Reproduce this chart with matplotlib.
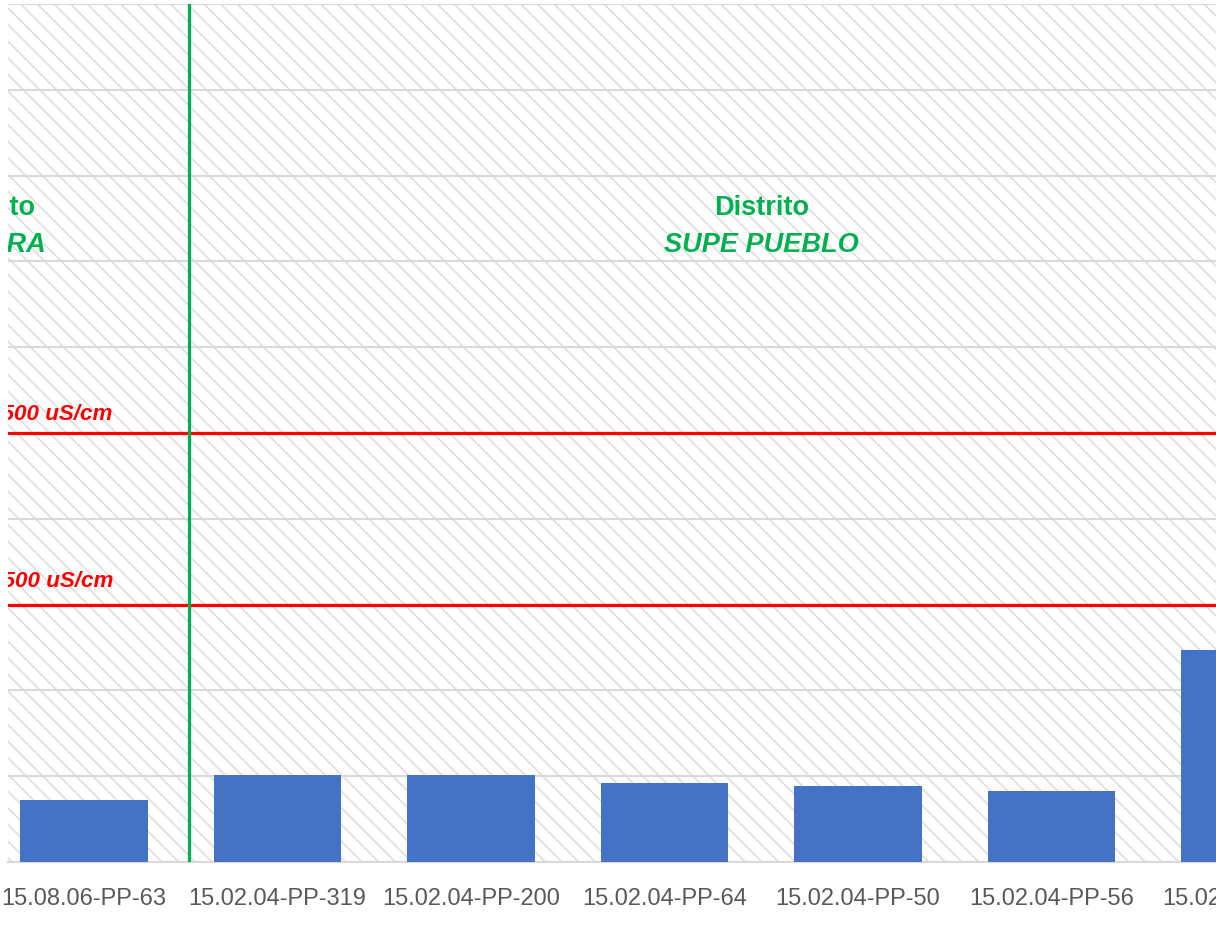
import numpy as np
import matplotlib
matplotlib.use("Agg")
import matplotlib.pyplot as plt
from matplotlib import font_manager
from matplotlib.patches import Rectangle

# data
wells = ["15.08.06-PP-63", "15.02.04-PP-319", "15.02.04-PP-200", "15.02.04-PP-64",
         "15.02.04-PP-50", "15.02.04-PP-56", "15.02.04-PP-47"]
conductivity = [362, 505, 505, 461, 443, 414, 1236]
limits = [2500, 1500]
limit_labels = ["2500 uS/cm", "1500 uS/cm"]
districts = ["HUAURA", "SUPE PUEBLO"]
district_x = [-0.5, 3.5]
divider_x = 0.54

names = {f.name for f in font_manager.fontManager.ttflist}
if "Liberation Sans Narrow" in names:
    fam, k = "Liberation Sans Narrow", 1.0
else:
    fam, k = "Liberation Sans", 0.85
plt.rcParams["font.family"] = [fam, "DejaVu Sans"]
plt.rcParams["hatch.linewidth"] = 1.1

W, H = 1216, 926
fig = plt.figure(figsize=(W / 100, H / 100), dpi=100)
ax = fig.add_axes([8 / W, (H - 862) / H, (W - 8) / W, (862 - 4) / H])

# hatched plot area
ax.add_patch(Rectangle((0, 0), 1, 1, transform=ax.transAxes, facecolor="white",
                       edgecolor="#DCDCDC", hatch="\\\\", lw=0, zorder=0))

x = np.arange(len(wells))
ax.bar(x, conductivity, width=0.66, color="#4472C4", zorder=3)

ax.set_xticks([])
ax.set_xlim(-0.393, 5.85)
ax.set_ylim(0, 5000)
ax.set_yticks(np.arange(0, 5001, 500))
ax.yaxis.grid(True, color="#D9D9D9", lw=1.5, zorder=1)
ax.set_axisbelow(True)
ax.tick_params(axis="y", left=False, labelleft=False)
for s in ["top", "left", "right"]:
    ax.spines[s].set_visible(False)
ax.spines["bottom"].set_color("#D9D9D9")
ax.spines["bottom"].set_linewidth(1.5)

# category labels as annotations so the one past the right edge still shows (cut by the figure)
for xi, lab in zip(x, wells):
    ax.annotate(lab, (xi, 0), xycoords=ax.get_xaxis_transform(), xytext=(0, -19),
                textcoords="offset points", ha="center", va="top",
                fontsize=20 * k, color="#595959", annotation_clip=False)

for lim, lab, off in zip(limits, limit_labels, [75, 100]):
    ax.axhline(lim, color="#FF0000", lw=2.3, zorder=4)
    ax.text(0.15, lim + off, lab, ha="right", va="baseline", color="#FF0000",
            fontsize=19 * k, fontweight="bold", fontstyle="italic", clip_on=True, zorder=5)

ax.axvline(divider_x, color="#00B050", lw=2.3, zorder=4)

for dx, name in zip(district_x, districts):
    ax.text(dx, 3771, "Distrito", ha="center", va="baseline", color="#00B050",
            fontsize=23 * k, fontweight="bold", clip_on=True, zorder=5)
    ax.text(dx, 3556, name, ha="center", va="baseline", color="#00B050",
            fontsize=23 * k, fontweight="bold", fontstyle="italic", clip_on=True, zorder=5)

fig.savefig("out.png", dpi=100)
